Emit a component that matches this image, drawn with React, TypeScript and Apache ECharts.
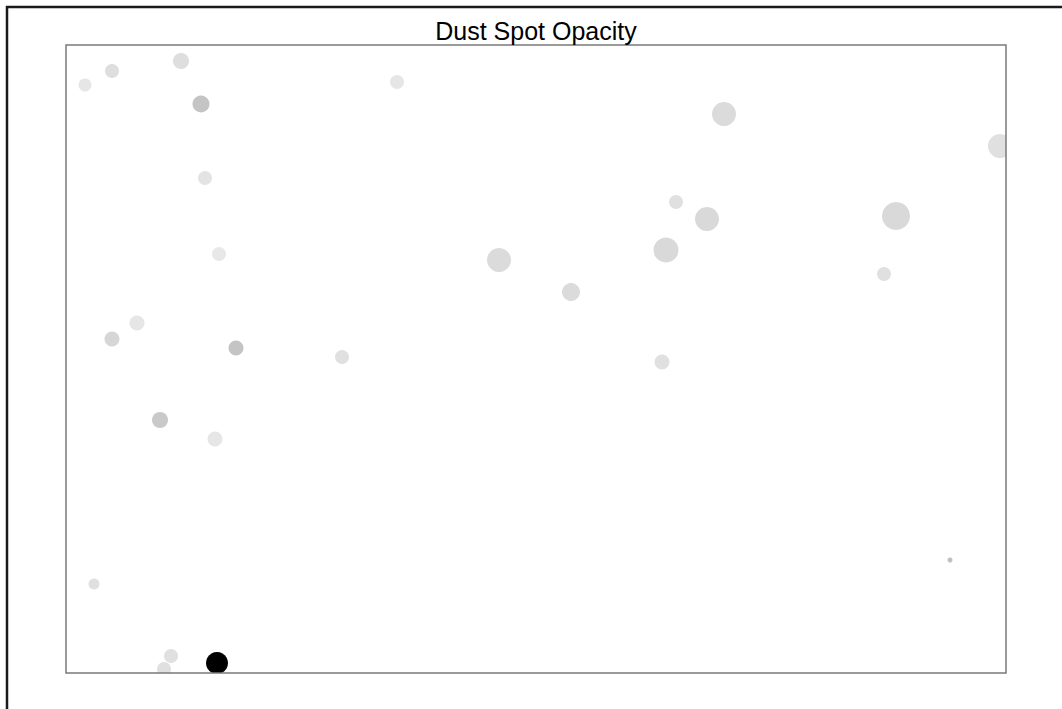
import React, { useEffect, useRef } from "react";
import * as echarts from "echarts";

const titleText = "Dust Spot Opacity";

// spot positions (plot units), diameters and opacities
const spotX = [19, 46, 115, 135, 331, 658, 934, 139, 610, 641, 830, 153, 433, 600, 818, 505, 71, 46, 170, 276, 596, 94, 149, 884, 28, 105, 98, 151];
const spotY = [588, 602, 612, 569, 591, 559, 527, 495, 471, 454, 457, 419, 413, 423, 399, 381, 350, 334, 325, 316, 311, 253, 234, 113, 89, 17, 4, 10];
const spotSize = [13, 14, 16, 17, 14, 24, 24, 14, 14, 24, 28, 14, 24, 25, 14, 18, 15, 15, 15, 14, 15, 16, 15, 5, 11, 14, 14, 22];
const spotOpacity = [0.1, 0.13, 0.13, 0.23, 0.1, 0.14, 0.12, 0.11, 0.12, 0.15, 0.15, 0.09, 0.14, 0.15, 0.12, 0.14, 0.1, 0.16, 0.23, 0.12, 0.12, 0.21, 0.1, 0.25, 0.12, 0.12, 0.12, 1.0];

const xRange = [0, 940];
const yRange = [0, 628];

const GL = 66, GT = 45, GW = 940, GH = 628;

export default function App() {
  const ref = useRef<HTMLDivElement>(null);
  useEffect(() => {
    if (!ref.current) return;
    const chart = echarts.init(ref.current, null, { renderer: "svg" });
    const data = spotX.map((x, i) => {
      const g = Math.round(255 * (1 - spotOpacity[i]));
      return {
        value: [x, spotY[i], spotSize[i], spotOpacity[i]],
        symbolSize: spotSize[i],
        itemStyle: { color: `rgb(${g},${g},${g})`, opacity: 1 },
      };
    });
    chart.setOption({
      animation: false,
      backgroundColor: "#ffffff",
      grid: { left: GL, top: GT, width: GW, height: GH, show: false },
      xAxis: { type: "value", min: xRange[0], max: xRange[1], show: false },
      yAxis: { type: "value", min: yRange[0], max: yRange[1], show: false },
      series: [
        {
          type: "scatter",
          symbol: "circle",
          clip: true,
          data,
          itemStyle: { opacity: 1 },
          z: 1,
        },
      ],
      graphic: [
        // mask symbols overflowing the plot area
        {
          type: "rect",
          shape: { x: GL + GW, y: 0, width: 1062 - GL - GW, height: 709 },
          style: { fill: "#ffffff" },
          z: 50,
          silent: true,
        },
        {
          type: "rect",
          shape: { x: 9, y: GT + GH, width: 1062, height: 709 - GT - GH },
          style: { fill: "#ffffff" },
          z: 50,
          silent: true,
        },
        {
          type: "rect",
          shape: { x: GL, y: GT, width: GW, height: GH },
          style: { fill: "none", stroke: "#7a7a7a", lineWidth: 1.5 },
          z: 60,
          silent: true,
        },
        {
          type: "line",
          shape: { x1: 6, y1: 7, x2: 1062, y2: 7 },
          style: { stroke: "#1a1a1a", lineWidth: 2.5 },
          z: 60,
          silent: true,
        },
        {
          type: "line",
          shape: { x1: 7, y1: 6, x2: 7, y2: 709 },
          style: { stroke: "#1a1a1a", lineWidth: 2.5 },
          z: 60,
          silent: true,
        },
        {
          type: "text",
          x: 536,
          y: 31,
          z: 60,
          style: {
            text: titleText,
            font: '25px "Liberation Sans", Arial, Helvetica, sans-serif',
            fill: "#000000",
            textAlign: "center",
            textVerticalAlign: "middle",
          },
        },
      ],
    });
    return () => chart.dispose();
  }, []);
  return (
    <div
      ref={ref}
      style={{ position: "fixed", left: 0, top: 0, width: 1062, height: 709 }}
    />
  );
}
